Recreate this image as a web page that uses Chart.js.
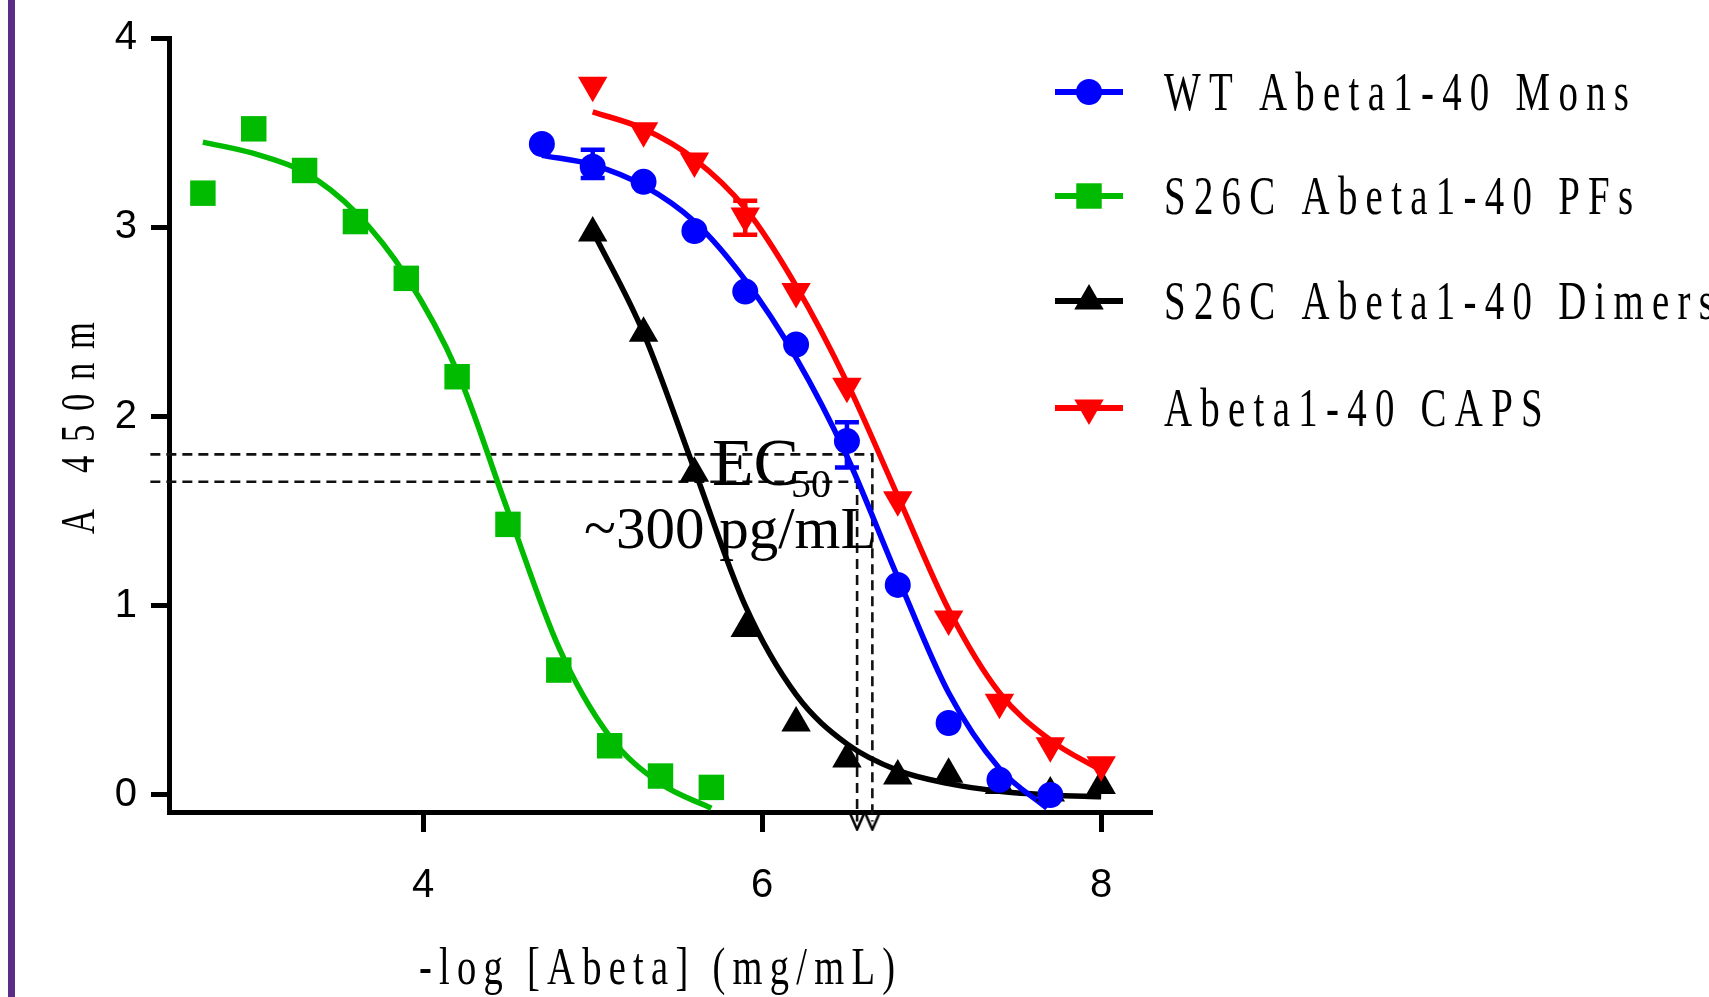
<!DOCTYPE html>
<html>
<head>
<meta charset="utf-8">
<script src="https://cdn.jsdelivr.net/npm/chart.js@4.4.1/dist/chart.umd.min.js"></script>
<style>
  html, body { margin: 0; padding: 0; background: #fff; }
  #wrap { position: relative; width: 1709px; height: 997px; overflow: hidden; }
  #bar { position: absolute; left: 8px; top: 0; width: 7px; height: 997px; background: #5b2d87; }
  #chart { position: absolute; left: 0; top: 0; }
</style>
</head>
<body>
<div id="wrap"><div id="bar"></div><canvas id="chart" width="1709" height="997"></canvas></div>
<script>
// data
var seriesNames = ['WT Abeta1-40 Mons', 'S26C Abeta1-40 PFs', 'S26C Abeta1-40 Dimers', 'Abeta1-40 CAPS'];

var monsX = [4.7, 5.0, 5.3, 5.6, 5.9, 6.2, 6.5, 6.8, 7.1, 7.4, 7.7];
var monsY = [3.44, 3.32, 3.24, 2.98, 2.66, 2.38, 1.87, 1.11, 0.38, 0.08, 0.0];
var pfX = [2.7, 3.0, 3.3, 3.6, 3.9, 4.2, 4.5, 4.8, 5.1, 5.4, 5.7];
var pfY = [3.18, 3.52, 3.30, 3.03, 2.73, 2.21, 1.43, 0.66, 0.26, 0.10, 0.04];
var dimX = [5.0, 5.3, 5.6, 5.9, 6.2, 6.5, 6.8, 7.1, 7.4, 7.7, 8.0];
var dimY = [2.97, 2.44, 1.70, 0.88, 0.38, 0.19, 0.10, 0.11, 0.05, 0.01, 0.05];
var capsX = [5.0, 5.3, 5.6, 5.9, 6.2, 6.5, 6.8, 7.1, 7.4, 7.7, 8.0];
var capsY = [3.75, 3.51, 3.35, 3.06, 2.66, 2.16, 1.56, 0.93, 0.49, 0.26, 0.16];

// fitted curves
var monsFitX = [4.7, 5.0, 5.3, 5.6, 5.9, 6.2, 6.5, 6.8, 7.1, 7.4, 7.68];
var monsFitY = [3.38, 3.33, 3.22, 3.03, 2.72, 2.31, 1.79, 1.15, 0.54, 0.14, -0.07];
var pfFitX = [2.7, 3.0, 3.3, 3.6, 3.9, 4.2, 4.5, 4.8, 5.1, 5.4, 5.7];
var pfFitY = [3.45, 3.39, 3.29, 3.08, 2.74, 2.24, 1.50, 0.78, 0.31, 0.06, -0.07];
var dimFitX = [5.0, 5.3, 5.6, 5.9, 6.2, 6.5, 6.8, 7.1, 7.4, 7.7, 8.0];
var dimFitY = [2.98, 2.44, 1.72, 1.00, 0.53, 0.27, 0.13, 0.06, 0.02, 0.0, -0.01];
var capsFitX = [5.0, 5.3, 5.6, 5.9, 6.2, 6.5, 6.8, 7.1, 7.4, 7.7, 8.0];
var capsFitY = [3.61, 3.52, 3.36, 3.10, 2.69, 2.18, 1.58, 0.98, 0.54, 0.29, 0.13];

// error bars
var monsErrX = [5.0, 6.5];
var monsErrLo = [3.26, 1.73];
var monsErrHi = [3.41, 1.97];
var capsErrX = [5.9];
var capsErrLo = [2.96];
var capsErrHi = [3.14];

// EC50 guide lines
var ec50X = [6.56, 6.65];
var ec50Y = [1.655, 1.80];
var ec50LeftX = 2.39;
var ec50BottomY = -0.14;

var xTicks = [4, 6, 8];
var yTicks = [0, 1, 2, 3, 4];

var SERIF = "'Liberation Serif', 'Times New Roman', serif";
var SANS = "'Liberation Sans Narrow', 'Arial Narrow', 'Liberation Sans', Arial, sans-serif";

var styles = [
  { color: '#0000ff', pointStyle: 'circle', radius: 13, rotation: 0 },
  { color: '#00bb00', pointStyle: 'rect', radius: 18, rotation: 0 },
  { color: '#000000', pointStyle: 'triangle', radius: 17, rotation: 0 },
  { color: '#ff0000', pointStyle: 'triangle', radius: 17, rotation: 180 }
];

function pts(xs, ys) {
  return xs.map(function(x, i) { return { x: x, y: ys[i] }; });
}

function vMark() {
  var c = document.createElement('canvas');
  c.width = 18; c.height = 20;
  var g = c.getContext('2d');
  g.strokeStyle = '#000'; g.lineWidth = 2.5;
  g.beginPath(); g.moveTo(2, 2); g.lineTo(9, 18); g.lineTo(16, 2); g.stroke();
  return c;
}

function markerSet(xs, ys, st, order) {
  return {
    type: 'scatter', data: pts(xs, ys), showLine: false, order: order, clip: false,
    pointStyle: st.pointStyle, pointRadius: st.radius, pointRotation: st.rotation,
    pointBackgroundColor: st.color, pointBorderColor: st.color, pointBorderWidth: 0
  };
}

function curveSet(xs, ys, st) {
  return {
    type: 'line', data: pts(xs, ys), order: 10, pointRadius: 0,
    borderColor: st.color, borderWidth: 5.5, cubicInterpolationMode: 'monotone', fill: false
  };
}

function dashSet(data) {
  return {
    type: 'line', data: data, order: 20, pointRadius: 0, clip: false,
    borderColor: '#111', borderWidth: 2.6, borderDash: [10, 6], fill: false
  };
}

function spacedText(ctx, text, x, y, size, sx, width, align, rotate) {
  ctx.save();
  ctx.translate(x, y);
  if (rotate) ctx.rotate(-Math.PI / 2);
  ctx.scale(sx, 1);
  ctx.font = size + 'px ' + SERIF;
  ctx.letterSpacing = '0px';
  var natural = ctx.measureText(text).width;
  var gap = (width / sx - natural) / (text.length - 1);
  ctx.letterSpacing = gap + 'px';
  ctx.textAlign = 'left';
  ctx.textBaseline = 'alphabetic';
  ctx.fillStyle = '#000';
  ctx.fillText(text, align === 'center' ? -width / sx / 2 : 0, 0);
  ctx.restore();
}

function drawErrors(ctx, xs, lo, hi, color, chart) {
  var sx = chart.scales.x, sy = chart.scales.y;
  ctx.strokeStyle = color;
  ctx.lineWidth = 4.5;
  for (var i = 0; i < xs.length; i++) {
    var px = sx.getPixelForValue(xs[i]);
    var p1 = sy.getPixelForValue(lo[i]);
    var p2 = sy.getPixelForValue(hi[i]);
    ctx.beginPath();
    ctx.moveTo(px, p1); ctx.lineTo(px, p2);
    ctx.moveTo(px - 12, p1); ctx.lineTo(px + 12, p1);
    ctx.moveTo(px - 12, p2); ctx.lineTo(px + 12, p2);
    ctx.stroke();
  }
}

var decor = {
  id: 'decor',
  afterDatasetsDraw: function(chart) {
    var ctx = chart.ctx;
    ctx.save();
    drawErrors(ctx, monsErrX, monsErrLo, monsErrHi, styles[0].color, chart);
    drawErrors(ctx, capsErrX, capsErrLo, capsErrHi, styles[3].color, chart);
    ctx.restore();
  },
  afterDraw: function(chart) {
    var ctx = chart.ctx;
    // axis titles
    spacedText(ctx, 'A 450nm', 94, 428, 48, 0.72, 212, 'center', true);
    spacedText(ctx, '-log [Abeta] (mg/mL)', 657, 984, 52, 0.74, 476, 'center', false);

    // legend
    var rowY = [92, 196, 301, 408];
    for (var i = 0; i < seriesNames.length; i++) {
      var st = styles[i];
      ctx.save();
      ctx.strokeStyle = st.color;
      ctx.fillStyle = st.color;
      ctx.lineWidth = 6;
      ctx.beginPath();
      ctx.moveTo(1055, rowY[i]); ctx.lineTo(1123, rowY[i]);
      ctx.stroke();
      Chart.helpers.drawPoint(ctx, { pointStyle: st.pointStyle, radius: st.radius, rotation: st.rotation, borderWidth: 0 }, 1089, rowY[i]);
      ctx.restore();
    }
    ctx.save();
    var lsx = 0.72;
    ctx.font = '54px ' + SERIF;
    ctx.letterSpacing = '0px';
    ctx.scale(lsx, 1);
    var gap = (465 / lsx - ctx.measureText(seriesNames[0]).width) / (seriesNames[0].length - 1);
    ctx.letterSpacing = gap + 'px';
    ctx.fillStyle = '#000';
    ctx.textBaseline = 'alphabetic';
    for (var j = 0; j < seriesNames.length; j++) {
      ctx.fillText(seriesNames[j], 1164 / lsx, rowY[j] + 18);
    }
    ctx.restore();

    // EC50 annotation
    ctx.save();
    ctx.fillStyle = '#000';
    ctx.textBaseline = 'alphabetic';
    ctx.font = '68px ' + SERIF;
    ctx.fillText('EC', 712, 485);
    var w = ctx.measureText('EC').width;
    ctx.font = '40px ' + SERIF;
    ctx.fillText('50', 712 + w - 8, 497);
    ctx.font = '59px ' + SERIF;
    ctx.fillText('~300 pg/mL', 584, 548);
    ctx.restore();
  }
};

var mark = vMark();
var datasets = [
  markerSet(monsX, monsY, styles[0], 0),
  markerSet(pfX, pfY, styles[1], 1),
  markerSet(capsX, capsY, styles[3], 2),
  markerSet(dimX, dimY, styles[2], 3),
  curveSet(monsFitX, monsFitY, styles[0]),
  curveSet(pfFitX, pfFitY, styles[1]),
  curveSet(dimFitX, dimFitY, styles[2]),
  curveSet(capsFitX, capsFitY, styles[3]),
  dashSet([{ x: ec50LeftX, y: ec50Y[0] }, { x: ec50X[0], y: ec50Y[0] }, { x: ec50X[0], y: ec50BottomY }]),
  dashSet([{ x: ec50LeftX, y: ec50Y[1] }, { x: ec50X[1], y: ec50Y[1] }, { x: ec50X[1], y: ec50BottomY }]),
  {
    type: 'scatter', data: pts(ec50X, [ec50BottomY, ec50BottomY]), order: 20, clip: false,
    pointStyle: mark, pointRadius: 9
  }
];

new Chart(document.getElementById('chart').getContext('2d'), {
  type: 'scatter',
  data: { datasets: datasets },
  options: {
    responsive: false,
    animation: false,
    events: [],
    layout: { padding: { left: 0, top: 38, right: 557, bottom: 85 } },
    plugins: { legend: { display: false }, tooltip: { enabled: false } },
    scales: {
      x: {
        type: 'linear', min: 2.5, max: 8.3,
        afterBuildTicks: function(s) { s.ticks = xTicks.map(function(v) { return { value: v }; }); },
        afterFit: function(s) { s.height = 100; },
        grid: { drawOnChartArea: false, drawTicks: true, tickLength: 20, tickWidth: 5, tickColor: '#000' },
        border: { display: true, color: '#000', width: 5 },
        ticks: { color: '#000', font: { family: SANS, size: 40 }, padding: 30 }
      },
      y: {
        type: 'linear', min: -0.09, max: 4,
        afterBuildTicks: function(s) { s.ticks = yTicks.map(function(v) { return { value: v }; }); },
        afterFit: function(s) { s.width = 169; },
        grid: { drawOnChartArea: false, drawTicks: true, tickLength: 18, tickWidth: 5, tickColor: '#000' },
        border: { display: true, color: '#000', width: 5 },
        ticks: { color: '#000', font: { family: SANS, size: 40 }, padding: 14 }
      }
    }
  },
  plugins: [decor]
});
</script>
</body>
</html>
